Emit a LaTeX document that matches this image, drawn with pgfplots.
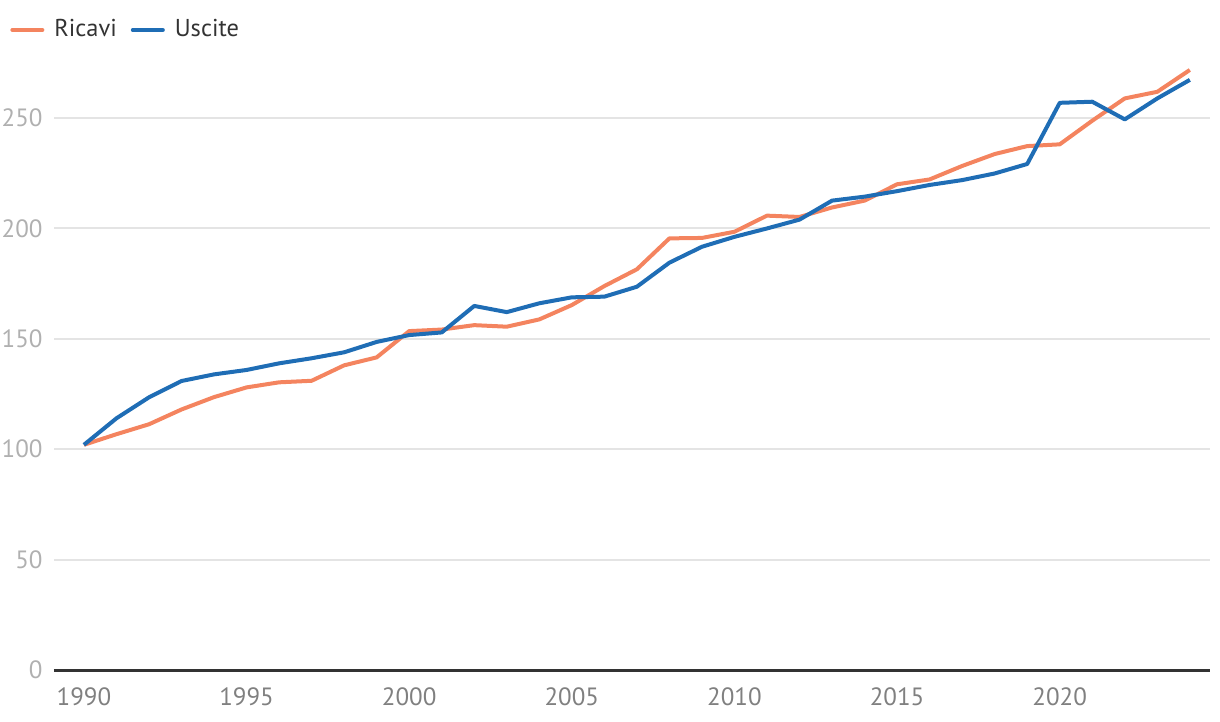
\documentclass[border=0pt]{standalone}
\usepackage{fontspec}
\setmainfont{PT Sans}
\usepackage{pgfplots}
\pgfplotsset{compat=1.18}
\definecolor{ric}{HTML}{F4845F}
\definecolor{usc}{HTML}{1F6DB5}
\definecolor{gridc}{HTML}{E4E4E4}
\definecolor{axisc}{HTML}{333333}
\definecolor{ylab}{HTML}{B0B0B0}
\definecolor{xlab}{HTML}{808080}
\definecolor{legc}{HTML}{333333}
\begin{document}
\fontsize{12.5pt}{15pt}\selectfont
\begin{tikzpicture}
\useasboundingbox (-27pt,-26pt) rectangle (583pt,335pt);
\begin{axis}[
  at={(0,0)}, anchor=south west,
  scale only axis, width=578pt, height=305pt,
  xmin=1989.08, xmax=2024.62, ymin=0, ymax=276.3,
  axis x line*=bottom, axis y line*=left,
  x axis line style={draw=axisc, line width=1.5pt, -},
  y axis line style={draw=none},
  tick style={draw=none}, major tick length=0pt,
  ymajorgrids, grid style={draw=gridc, line width=1pt},
  xtick={1990,1995,...,2020}, ytick={0,50,...,250},
  /pgf/number format/assume math mode=true,
  /pgf/number format/1000 sep={},
  tick label style={font=\fontsize{12.5pt}{15pt}\selectfont, inner sep=0pt},
  xticklabel style={color=xlab, anchor=north, yshift=-8.5pt},
  yticklabel style={color=ylab, anchor=east, xshift=-5.5pt},
  legend columns=2,
  legend style={at={(axis description cs:-0.0381,1.0492)}, anchor=west,
    draw=none, fill=none, inner sep=0pt, text=legc,
    font=\fontsize{12.2pt}{15pt}\selectfont,
    /tikz/every odd column/.append style={column sep=3pt},
    /tikz/every even column/.append style={column sep=5pt}},
  legend cell align=left,
  legend image code/.code={\draw[#1,line width=2pt,line cap=round] (0pt,0pt) -- (15pt,0pt);},
  every axis plot/.append style={line width=2pt, line join=round, no markers},
]
\addplot[color=ric] coordinates {
(1990,102.0) (1991,106.8) (1992,111.3) (1993,118.0) (1994,123.6) (1995,128.0)
(1996,130.3) (1997,131.0) (1998,138.0) (1999,141.6) (2000,153.5) (2001,154.2)
(2002,156.2) (2003,155.5) (2004,158.8) (2005,165.3) (2006,173.9) (2007,181.5)
(2008,195.5) (2009,195.7) (2010,198.5) (2011,205.8) (2012,205.2) (2013,209.5)
(2014,212.6) (2015,220.0) (2016,222.2) (2017,228.3) (2018,233.7) (2019,237.3)
(2020,238.1) (2021,248.8) (2022,258.9) (2023,261.9) (2024,271.8)
};
\addlegendentry{Ricavi}
\addplot[color=usc] coordinates {
(1990,102.0) (1991,114.0) (1992,123.5) (1993,130.9) (1994,133.9) (1995,135.9)
(1996,138.9) (1997,141.2) (1998,143.9) (1999,148.6) (2000,151.7) (2001,152.9)
(2002,164.9) (2003,162.1) (2004,166.1) (2005,168.8) (2006,169.1) (2007,173.6)
(2008,184.5) (2009,191.7) (2010,196.2) (2011,200.0) (2012,204.0) (2013,212.6)
(2014,214.4) (2015,216.9) (2016,219.7) (2017,221.9) (2018,224.9) (2019,229.2)
(2020,256.9) (2021,257.4) (2022,249.4) (2023,258.9) (2024,267.3)
};
\addlegendentry{Uscite}
\end{axis}
\end{tikzpicture}
\end{document}
